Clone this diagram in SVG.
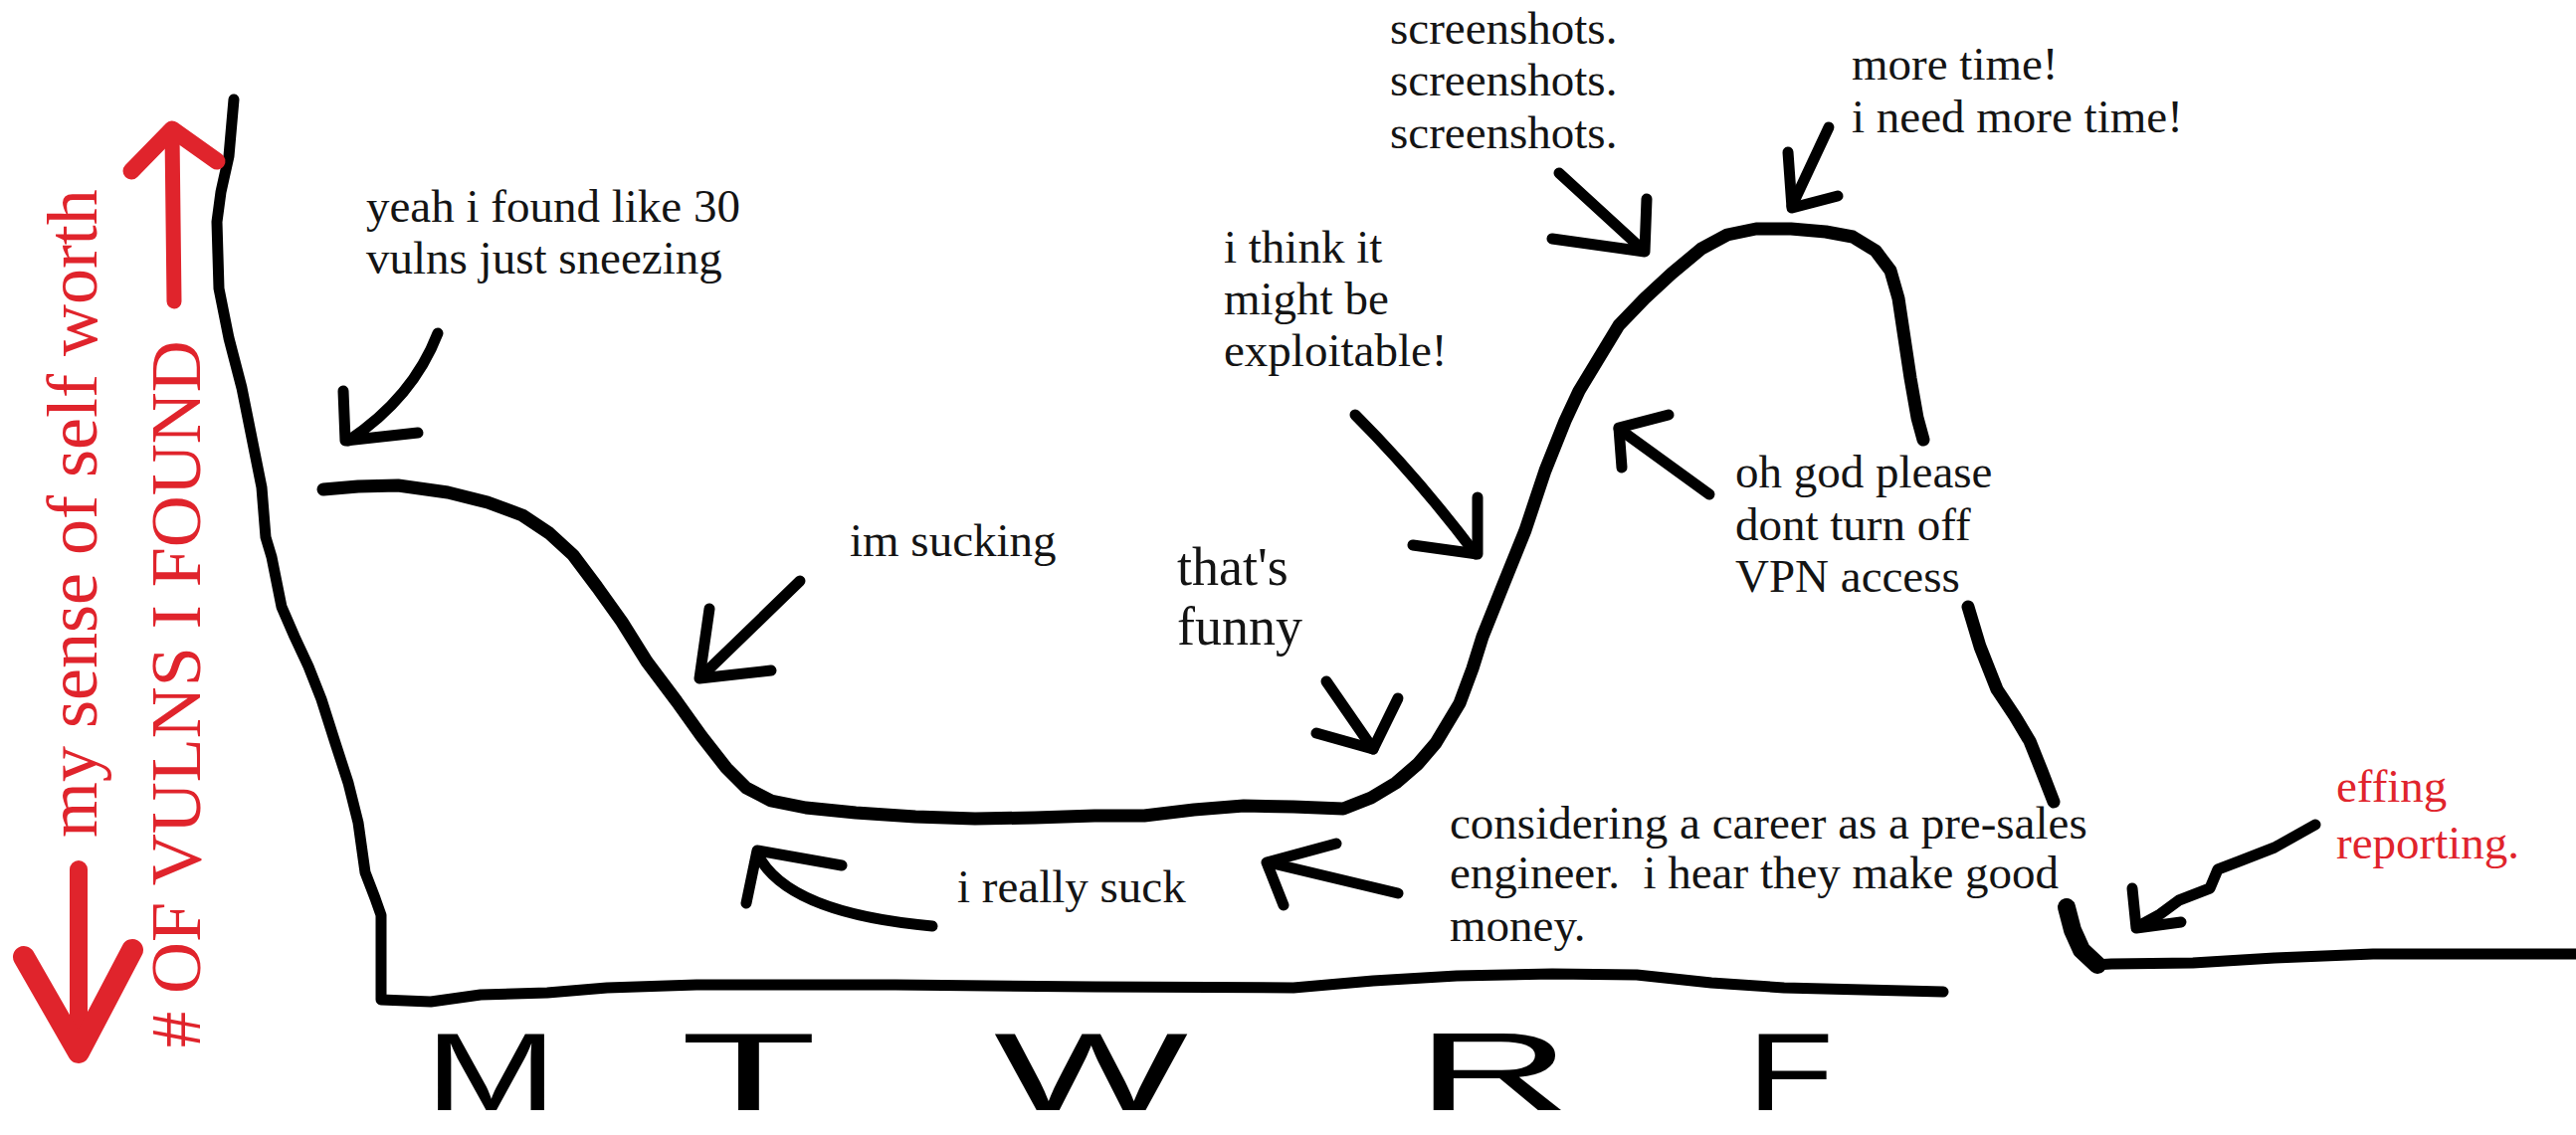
<svg xmlns="http://www.w3.org/2000/svg" width="2589" height="1141" viewBox="0 0 2589 1141">
<style>
.t{font-family:"Liberation Serif","Times New Roman",serif;font-size:47px;fill:#141414}
.big{font-size:54px}
.red{fill:#e0242c}
.rt{font-family:"Liberation Serif","Times New Roman",serif;font-size:72px;fill:#e0242c}
.day{font-family:"Liberation Sans",Arial,sans-serif;font-size:112px;fill:#000}
.ln{fill:none;stroke:#000;stroke-linecap:round;stroke-linejoin:round}
.ax{stroke-width:11}
.cv{stroke-width:13}
.ar{fill:none;stroke:#000;stroke-width:11;stroke-linecap:round;stroke-linejoin:round}
.ra{fill:none;stroke:#e0242c;stroke-linecap:round;stroke-linejoin:round}
</style>
<rect width="2589" height="1141" fill="#fff"/>

<g id="axes">
<path class="ln ax" d="M235,100 L230,157 L222,193 L218,223 L220,290 L230,340 L243,390 L253,440 L263,490 L267,540 L273,560 L283,610 L296,640 L310,670 L323,703 L337,747 L350,787 L360,827 L367,877 L377,903 L383,920 L383,1005 L433,1007 L483,1000 L550,998 L610,993 L700,990 L900,990 L1100,992 L1300,993 L1380,986 L1464,981 L1560,979 L1645,980 L1720,988 L1793,993 L1953,997"/>
</g>

<g id="curve">
<path class="ln cv" d="M325,492 L360,489 L400,488 L450,495 L490,505 L525,518 L552,536 L576,558 L600,590 L625,625 L650,665 L680,705 L705,740 L730,772 L750,792 L775,805 L810,812 L860,817 L920,821 L980,823 L1040,822 L1100,820 L1150,820 L1200,814 L1250,810 L1300,811 L1350,813 L1378,802 L1403,787 L1425,768 L1443,747 L1467,707 L1480,672 L1490,640 L1510,590 L1533,533 L1553,473 L1573,423 L1587,393 L1607,360 L1627,327 L1653,300 L1680,275 L1710,250 L1736,236 L1765,230 L1800,230 L1835,233 L1862,238 L1885,252 L1900,272 L1908,300 L1914,340 L1920,380 L1927,420 L1933,442"/>
<path class="ln" stroke-width="13" d="M1978,610 L1990,650 L2007,693 L2025,720 L2040,745 L2052,775 L2064,806"/>
<path class="ln" stroke-width="18" d="M2077,912 L2083,935 L2092,955 L2108,970"/>
<path class="ln" stroke-width="11" d="M2105,970 L2122,969 L2204,968 L2286,963 L2385,959 L2589,959"/>
</g>

<g id="connectors">
<path class="ar" d="M440,335 Q415,400 350,443"/><path class="ar" d="M345,393 L347,443 L420,435"/>
<path class="ar" d="M804,584 L705,680"/><path class="ar" d="M713,612 L703,682 L775,674"/>
<path class="ar" d="M937,931 Q790,918 761,858"/><path class="ar" d="M750,908 L761,855 L846,870"/>
<path class="ar" d="M1405,898 L1275,867"/><path class="ar" d="M1343,848 L1273,867 L1290,910"/>
<path class="ar" d="M1333,685 L1380,753"/><path class="ar" d="M1405,702 L1380,753 L1323,737"/>
<path class="ar" d="M1362,417 Q1425,480 1483,557"/><path class="ar" d="M1485,500 L1485,557 L1420,548"/>
<path class="ar" d="M1567,174 L1651,251"/><path class="ar" d="M1655,200 L1653,253 L1560,240"/>
<path class="ar" d="M1838,128 L1801,207"/><path class="ar" d="M1797,153 L1801,209 L1847,197"/>
<path class="ar" d="M1718,497 L1627,431"/><path class="ar" d="M1630,470 L1627,430 L1677,417"/>
<path class="ar" d="M2327,829 L2286,852 L2250,866 L2229,874 L2221,893 L2190,905 L2171,919 L2149,931"/><path class="ar" d="M2143,893 L2147,933 L2192,927"/>
<path class="ra" stroke-width="15" d="M175,303 L173,135"/><path class="ra" stroke-width="17" d="M132,172 L173,130 L218,162"/>
<path class="ra" stroke-width="18" d="M79,874 L79,1055"/><path class="ra" stroke-width="22" d="M24,962 L79,1058 L133,955"/>
</g>

<g id="label-yaxis-worth"><text class="rt" transform="translate(97,842) rotate(-90)">my sense of self worth</text></g>
<g id="label-yaxis-vulns"><text class="rt" transform="translate(201,1053) rotate(-90)"># OF VULNS I FOUND</text></g>

<g id="n-yeah"><text class="t" x="368" y="223">yeah i found like 30</text><text class="t" x="368" y="275">vulns just sneezing</text></g>
<g id="n-sucking"><text class="t" x="854" y="559">im sucking</text></g>
<g id="n-reallysuck"><text class="t" x="962" y="907">i really suck</text></g>
<g id="n-funny"><text class="t big" x="1183" y="588">that's</text><text class="t big" x="1183" y="648">funny</text></g>
<g id="n-exploitable"><text class="t" x="1230" y="264">i think it</text><text class="t" x="1230" y="316">might be</text><text class="t" x="1230" y="368">exploitable!</text></g>
<g id="n-screenshots"><text class="t" x="1397" y="44">screenshots.</text><text class="t" x="1397" y="96">screenshots.</text><text class="t" x="1397" y="149">screenshots.</text></g>
<g id="n-moretime"><text class="t" x="1861" y="80">more time!</text><text class="t" x="1861" y="133">i need more time!</text></g>
<g id="n-vpn"><text class="t" x="1744" y="490">oh god please</text><text class="t" x="1744" y="543">dont turn off</text><text class="t" x="1744" y="595">VPN access</text></g>
<g id="n-presales"><text class="t" x="1457" y="843">considering a career as a pre-sales</text><text class="t" x="1457" y="893" xml:space="preserve">engineer.  i hear they make good</text><text class="t" x="1457" y="946">money.</text></g>
<g id="n-reporting"><text class="t red" font-size="53" x="2348" y="806">effing</text><text class="t red" font-size="53" x="2348" y="863">reporting.</text></g>

<g id="days">
<text class="day" x="427" y="1116" textLength="133" lengthAdjust="spacingAndGlyphs">M</text>
<text class="day" x="684" y="1116" textLength="137" lengthAdjust="spacingAndGlyphs">T</text>
<text class="day" x="999" y="1116" textLength="195" lengthAdjust="spacingAndGlyphs">W</text>
<text class="day" x="1423" y="1116" textLength="156" lengthAdjust="spacingAndGlyphs">R</text>
<text class="day" x="1756" y="1116" textLength="87" lengthAdjust="spacingAndGlyphs">F</text>
</g>
</svg>
